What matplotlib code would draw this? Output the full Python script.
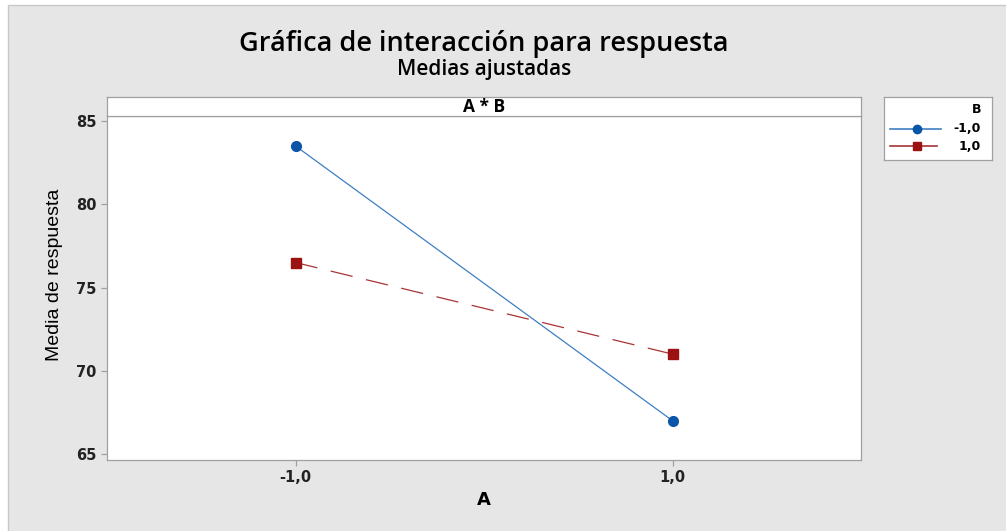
import matplotlib
matplotlib.use("Agg")
import matplotlib.pyplot as plt
from matplotlib.lines import Line2D
from matplotlib.patches import Rectangle

# data
a_levels = [-1.0, 1.0]
b_low = [83.5, 67.0]    # B = -1,0
b_high = [76.5, 71.0]   # B = 1,0
tick_labels = ["-1,0", "1,0"]
y_ticks = [65, 70, 75, 80, 85]

BG = "#e6e6e6"
EDGE = "#a0a0a0"
BLUE_M = "#0a55a8"
BLUE_L = "#3f7fc4"
RED_M = "#9a1212"
RED_L = "#a83434"

fig = plt.figure(figsize=(10.06, 5.31), dpi=100, facecolor="white")

W, H = 1006, 531
def fx(px):
    return px / W
def fy(py):
    return 1 - py / H

# gray panel with a thin white margin on the top and left, like the screenshot
fig.patches.append(Rectangle((fx(8), -0.02), 1.0, fy(5) + 0.02, transform=fig.transFigure,
                             facecolor=BG, edgecolor="#c8c8c8", lw=1.0, zorder=-10))

ax = fig.add_axes([fx(107), fy(460), fx(861) - fx(107), fy(116) - fy(460)])
ax.set_facecolor("white")
ax.plot(a_levels, b_low, color=BLUE_L, lw=0.9, zorder=2)
ax.plot(a_levels, b_low, ls="none", marker="o", ms=7, color=BLUE_M, zorder=3)
ax.plot(a_levels, b_high, color=RED_L, lw=0.9, dashes=(18, 11), zorder=2)
ax.plot(a_levels, b_high, ls="none", marker="s", ms=7, color=RED_M, zorder=3)

ax.set_xlim(-2.0, 2.0)
ax.set_ylim(64.64, 85.3)
ax.set_xticks(a_levels)
ax.set_xticklabels(tick_labels)
ax.set_yticks(y_ticks)
for s in ax.spines.values():
    s.set_color(EDGE)
    s.set_linewidth(0.9)
ax.tick_params(colors=EDGE, length=4, width=0.9, labelcolor="#222222", labelsize=10.5)
for lab in ax.get_xticklabels() + ax.get_yticklabels():
    lab.set_fontweight("bold")
    lab.set_family("DejaVu Sans")

# axis labels placed where the reference has them
fig.text(fx(55), fy(275), "Media de respuesta", rotation=90, ha="center", va="center",
         fontsize=14, family="Liberation Sans")
fig.text(fx(484), fy(500), "A", ha="center", va="center", fontsize=13,
         fontweight="bold", family="DejaVu Sans")

# panel header strip
strip = fig.add_axes([fx(107), fy(116), fx(861) - fx(107), fy(97) - fy(116)])
strip.set_facecolor("white")
strip.set_xticks([])
strip.set_yticks([])
for s in strip.spines.values():
    s.set_color(EDGE)
    s.set_linewidth(0.9)
strip.text(0.5, 0.45, "A * B", ha="center", va="center", fontsize=12.5,
           fontweight="bold", family="Open Sans", transform=strip.transAxes)

# titles
fig.text(fx(484), fy(44), "Gráfica de interacción para respuesta", ha="center",
         va="center", fontsize=19.5, fontweight="semibold", family="Open Sans")
fig.text(fx(484), fy(70), "Medias ajustadas", ha="center", va="center",
         fontsize=15, fontweight="semibold", family="Open Sans")

# legend box
leg = fig.add_axes([fx(884), fy(160), fx(992) - fx(884), fy(97) - fy(160)])
leg.set_facecolor("white")
leg.set_xticks([])
leg.set_yticks([])
leg.set_xlim(0, 1)
leg.set_ylim(0, 1)
for s in leg.spines.values():
    s.set_color(EDGE)
    s.set_linewidth(0.9)
leg.text(0.9, 0.8, "B", ha="right", va="center", fontsize=9, fontweight="bold")
leg.add_line(Line2D([0.06, 0.53], [0.5, 0.5], color=BLUE_L, lw=1.2))
leg.plot([0.31], [0.5], marker="o", ms=6, color=BLUE_M)
leg.text(0.9, 0.5, tick_labels[0], ha="right", va="center", fontsize=9, fontweight="bold")
leg.add_line(Line2D([0.06, 0.49], [0.22, 0.22], color=RED_L, lw=1.2))
leg.plot([0.31], [0.22], marker="s", ms=6, color=RED_M)
leg.text(0.9, 0.22, tick_labels[1], ha="right", va="center", fontsize=9, fontweight="bold")

fig.savefig("out.png", dpi=100, facecolor="white")
